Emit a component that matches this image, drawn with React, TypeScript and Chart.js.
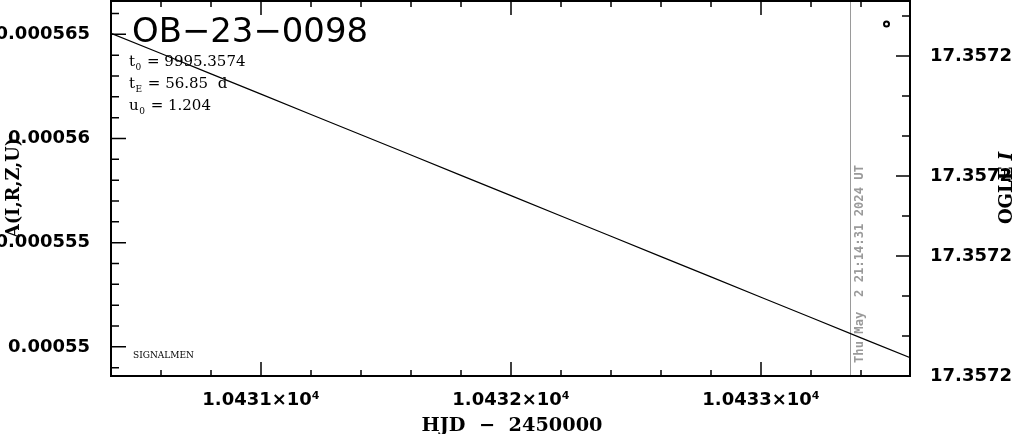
import React, { useEffect, useRef } from "react";
import { Chart, registerables } from "chart.js";

Chart.register(...registerables);

// ---- data ----
const hjd = [
  10430.4, 10430.6, 10430.8, 10431.0, 10431.2, 10431.4, 10431.6, 10431.8, 10432.0,
  10432.2, 10432.4, 10432.6, 10432.8, 10433.0, 10433.2, 10433.4, 10433.6,
];
const ampValues = [
  0.00056505, 0.00056408, 0.0005631, 0.00056213, 0.00056115, 0.00056018, 0.00055921,
  0.00055823, 0.00055726, 0.00055628, 0.00055531, 0.00055433, 0.00055336, 0.00055238,
  0.00055141, 0.00055043, 0.00054946,
];
const markerHjd = [10433.502];
const markerAmp = [0.0005655];

const xTickValues = [
  10430.6, 10430.8, 10431.0, 10431.2, 10431.4, 10431.6, 10431.8, 10432.0, 10432.2,
  10432.4, 10432.6, 10432.8, 10433.0, 10433.2, 10433.4,
];
const xMajorTicks = [10431, 10432, 10433];
const xMajorLabels = ["1.0431×10⁴", "1.0432×10⁴", "1.0433×10⁴"];

const yTickValues = [
  0.000549, 0.00055, 0.000551, 0.000552, 0.000553, 0.000554, 0.000555, 0.000556,
  0.000557, 0.000558, 0.000559, 0.00056, 0.000561, 0.000562, 0.000563, 0.000564,
  0.000565, 0.000566,
];
const yMajorTicks = [0.00055, 0.000555, 0.00056, 0.000565];
const yMajorLabels = ["0.00055", "0.000555", "0.00056", "0.000565"];

const magTickValues = [0, 1, 2, 3, 4, 5, 6, 7, 8, 9];
const magTickLabels = ["17.3572", "", "", "17.3572", "", "17.3572", "", "", "17.3572", ""];

const X_MIN = 10430.4;
const X_MAX = 10433.596;
const Y_MIN = 0.0005486;
const Y_MAX = 0.0005666;
const MAG_MIN = 0;
const MAG_MAX = 9.375;

const dateLineHjd = 10433.357;
const dateText = "Thu May  2 21:14:31 2024 UT";
const titleText = "OB\u221223\u22120098";
const paramLines = [
  { base: "t", sub: "0", rest: " = 9995.3574" },
  { base: "t", sub: "E", rest: " = 56.85  d" },
  { base: "u", sub: "0", rest: " = 1.204" },
];
const footText = "SIGNALMEN";
const yTitle = "A(I,R,Z,U)";
const xTitle = "HJD  \u2212  2450000";
const rightTitleMain = "OGLE ";
const rightTitleItalic = "I";

const near = (a: number, b: number) => Math.abs(a - b) < 1e-9 * Math.max(1, Math.abs(b));

function fitText(
  ctx: CanvasRenderingContext2D,
  text: string,
  x: number,
  y: number,
  targetW: number,
  align: CanvasTextAlign,
  rot = 0
) {
  const w = ctx.measureText(text).width;
  const sx = targetW / w;
  ctx.save();
  ctx.translate(x, y);
  if (rot) ctx.rotate(rot);
  ctx.scale(sx, 1);
  ctx.textAlign = align;
  ctx.fillText(text, 0, 0);
  ctx.restore();
}

const zeroPad = (s: any) => {
  s.paddingTop = 0;
  s.paddingBottom = 0;
  s.paddingLeft = 0;
  s.paddingRight = 0;
};

const decorPlugin = {
  id: "decor",
  beforeDatasetsDraw(chart: any) {
    const { ctx, chartArea } = chart;
    const xs = chart.scales.x;
    const px = Math.round(xs.getPixelForValue(dateLineHjd)) + 0.5;
    ctx.save();
    ctx.strokeStyle = "#9a9a9a";
    ctx.lineWidth = 1;
    ctx.beginPath();
    ctx.moveTo(px, chartArea.top);
    ctx.lineTo(px, chartArea.bottom);
    ctx.stroke();
    ctx.restore();
  },
  afterDraw(chart: any) {
    const { ctx, chartArea } = chart;
    const { left, right, top, bottom } = chartArea;
    const xs = chart.scales.x;
    const ys = chart.scales.y;
    const ms = chart.scales.y2;
    ctx.save();
    // ticks
    ctx.strokeStyle = "#000";
    ctx.lineWidth = 1.5;
    ctx.beginPath();
    xTickValues.forEach((v) => {
      const p = xs.getPixelForValue(v);
      const len = xMajorTicks.some((m) => near(m, v)) ? 14 : 6;
      ctx.moveTo(p, bottom);
      ctx.lineTo(p, bottom - len);
      ctx.moveTo(p, top);
      ctx.lineTo(p, top + len);
    });
    yTickValues.forEach((v) => {
      const p = ys.getPixelForValue(v);
      const len = yMajorTicks.some((m) => near(m, v)) ? 15 : 8;
      ctx.moveTo(left, p);
      ctx.lineTo(left + len, p);
    });
    magTickValues.forEach((v, i) => {
      const p = ms.getPixelForValue(v);
      const len = magTickLabels[i] !== "" ? 14 : 8;
      ctx.moveTo(right, p);
      ctx.lineTo(right - len, p);
    });
    ctx.stroke();
    // frame
    ctx.lineWidth = 2;
    ctx.strokeRect(left, top, right - left, bottom - top);

    ctx.fillStyle = "#000";
    ctx.textBaseline = "alphabetic";
    // title
    ctx.font = "34px 'DejaVu Sans'";
    fitText(ctx, titleText, 132, 42, 236, "left");
    // parameters
    paramLines.forEach((ln, i) => {
      const y = 66 + i * 22;
      let x = 129;
      ctx.font = "15px 'DejaVu Serif'";
      ctx.textAlign = "left";
      ctx.fillText(ln.base, x, y);
      x += ctx.measureText(ln.base).width + 0.5;
      ctx.font = "9px 'DejaVu Serif'";
      ctx.fillText(ln.sub, x, y + 4);
      x += ctx.measureText(ln.sub).width + 1;
      ctx.font = "15px 'DejaVu Serif'";
      ctx.fillText(ln.rest, x, y);
    });
    // footer label
    ctx.font = "9px 'DejaVu Serif'";
    fitText(ctx, footText, 133, 358, 61, "left");
    // date text
    ctx.fillStyle = "#9a9a9a";
    ctx.font = "bold 12px 'DejaVu Sans Mono'";
    const dx = xs.getPixelForValue(dateLineHjd) + 13;
    fitText(ctx, dateText, dx, 264, 198, "center", -Math.PI / 2);
    // axis titles
    ctx.fillStyle = "#000";
    ctx.font = "bold 18px 'DejaVu Serif'";
    fitText(ctx, yTitle, 19, 188, 100, "center", -Math.PI / 2);
    ctx.font = "bold 19px 'DejaVu Serif'";
    fitText(ctx, xTitle, 512, 431, 181, "center");
    // right title: OGLE + italic I
    ctx.save();
    ctx.translate(1012, 188);
    ctx.rotate(-Math.PI / 2);
    ctx.font = "bold 18px 'DejaVu Serif'";
    const w1 = ctx.measureText(rightTitleMain).width;
    ctx.font = "italic bold 18px 'DejaVu Serif'";
    const w2 = ctx.measureText(rightTitleItalic).width;
    const start = -(w1 + w2) / 2;
    ctx.textAlign = "left";
    ctx.font = "bold 18px 'DejaVu Serif'";
    ctx.fillText(rightTitleMain, start, 0);
    ctx.font = "italic bold 18px 'DejaVu Serif'";
    ctx.fillText(rightTitleItalic, start + w1, 0);
    ctx.restore();
    ctx.restore();
  },
};

export default function App() {
  const ref = useRef<HTMLCanvasElement | null>(null);
  useEffect(() => {
    if (!ref.current) return;
    const tickFont = { family: "'DejaVu Sans'", size: 18, weight: "bold" as const };
    const chart = new Chart(ref.current, {
      type: "line",
      data: {
        datasets: [
          {
            data: hjd.map((x, i) => ({ x, y: ampValues[i] })),
            borderColor: "#000",
            borderWidth: 1.2,
            pointRadius: 0,
            yAxisID: "y",
            tension: 0,
          },
          {
            data: markerHjd.map((x, i) => ({ x, y: markerAmp[i] })),
            showLine: false,
            pointRadius: 2.5,
            pointBorderWidth: 2,
            pointBorderColor: "#000",
            pointBackgroundColor: "#fff",
            yAxisID: "y",
          },
        ],
      },
      options: {
        animation: false,
        responsive: false,
        devicePixelRatio: 1,
        layout: { autoPadding: false, padding: { top: 1, left: 0, right: 0, bottom: 0 } },
        plugins: { legend: { display: false }, tooltip: { enabled: false } },
        events: [],
        scales: {
          x: {
            type: "linear",
            position: "bottom",
            min: X_MIN,
            max: X_MAX,
            grid: { display: false },
            border: { display: false },
            afterBuildTicks: (s: any) => {
              s.ticks = xTickValues.map((value) => ({ value }));
            },
            afterFit: (s: any) => {
              s.height = 58;
              zeroPad(s);
            },
            ticks: {
              autoSkip: false,
              maxRotation: 0,
              padding: 6,
              color: "#000",
              font: tickFont,
              callback: (v: any) => {
                const i = xMajorTicks.findIndex((m) => near(m, Number(v)));
                return i >= 0 ? xMajorLabels[i] : "";
              },
            },
          },
          y: {
            type: "linear",
            position: "left",
            min: Y_MIN,
            max: Y_MAX,
            grid: { display: false },
            border: { display: false },
            afterBuildTicks: (s: any) => {
              s.ticks = yTickValues.map((value) => ({ value }));
            },
            afterFit: (s: any) => {
              s.width = 111;
              zeroPad(s);
            },
            ticks: {
              autoSkip: false,
              padding: 13,
              color: "#000",
              font: tickFont,
              callback: (v: any) => {
                const i = yMajorTicks.findIndex((m) => near(m, Number(v)));
                return i >= 0 ? yMajorLabels[i] : "";
              },
            },
          },
          y2: {
            type: "linear",
            position: "right",
            min: MAG_MIN,
            max: MAG_MAX,
            grid: { display: false },
            border: { display: false },
            afterBuildTicks: (s: any) => {
              s.ticks = magTickValues.map((value) => ({ value }));
            },
            afterFit: (s: any) => {
              s.width = 104;
              zeroPad(s);
            },
            ticks: {
              autoSkip: false,
              padding: 12,
              color: "#000",
              font: tickFont,
              callback: (v: any) => {
                const i = magTickValues.indexOf(Math.round(Number(v)));
                return i >= 0 ? magTickLabels[i] : "";
              },
            },
          },
        },
      },
      plugins: [decorPlugin],
    });
    return () => chart.destroy();
  }, []);
  return (
    <div style={{ position: "absolute", left: 0, top: 0, width: 1014, height: 434, background: "#fff" }}>
      <canvas ref={ref} width={1014} height={434} style={{ display: "block", width: 1014, height: 434 }} />
    </div>
  );
}
